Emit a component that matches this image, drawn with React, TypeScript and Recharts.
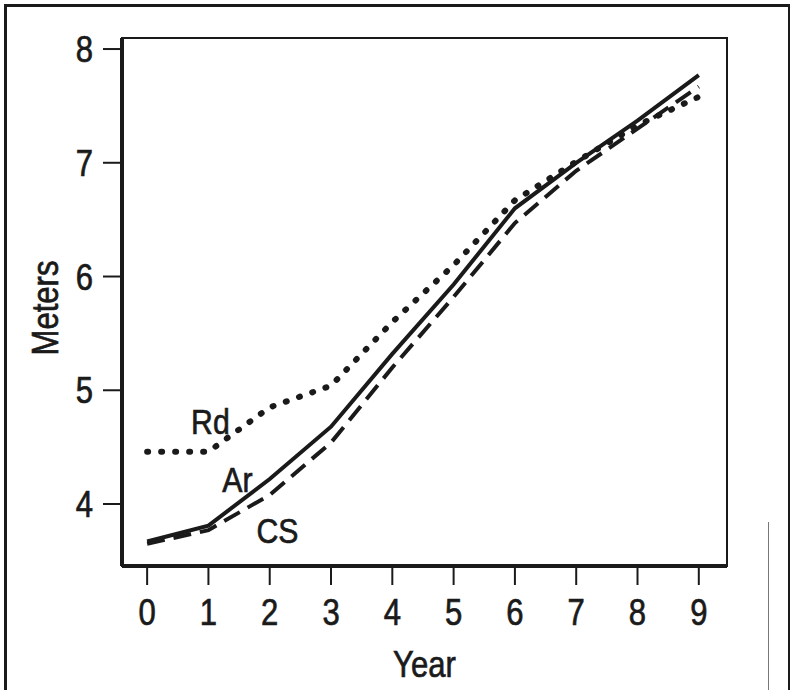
import { LineChart, Line, XAxis, YAxis, LabelList, ReferenceArea } from "recharts";

const years = [0, 1, 2, 3, 4, 5, 6, 7, 8, 9];
const ar = [3.67, 3.81, 4.22, 4.68, 5.32, 5.93, 6.6, 7.0, 7.37, 7.77];
const cs = [3.65, 3.77, 4.08, 4.54, 5.2, 5.82, 6.47, 6.93, 7.3, 7.67];
const rd = [4.46, 4.46, 4.85, 5.04, 5.6, 6.1, 6.67, 7.01, 7.33, 7.58];
const yTicks = [4, 5, 6, 7, 8];

const data = years.map((y, i) => ({ year: y, ar: ar[i], cs: cs[i], rd: rd[i] }));

const X_DOMAIN = [-0.41, 9.46];
const Y_DOMAIN = [3.455, 8.097];

const FONT = "'Liberation Sans', Arial, sans-serif";
const INK = "#1a1a1a";
const SQUEEZE = 0.84; // the scanned figure uses a narrow face

function NarrowText({ x, y, anchor, dy, size, rotate, children }: any) {
  const rot = rotate ? ` rotate(${rotate})` : "";
  return (
    <text
      x={0}
      y={0}
      dy={dy}
      transform={`translate(${x},${y})${rot} scale(${SQUEEZE},1)`}
      textAnchor={anchor}
      fontFamily={FONT}
      fontSize={size}
      fill={INK}
      stroke={INK}
      strokeWidth={0.7}
    >
      {children}
    </text>
  );
}

const XTick = (p: any) => (
  <NarrowText x={p.x} y={p.y} anchor="middle" dy="0.71em" size={37}>
    {p.payload.value}
  </NarrowText>
);

const YTick = (p: any) => (
  <NarrowText x={p.x} y={p.y} anchor="end" dy="0.355em" size={37}>
    {p.payload.value}
  </NarrowText>
);

// name printed next to a curve, hung off its second point
function curveName(text: string, dx: number, dy: number) {
  return (props: any) => {
    if (props.index !== 1) return null;
    return (
      <NarrowText x={props.x + dx} y={props.y + dy} anchor="middle" dy="0.355em" size={36}>
        {text}
      </NarrowText>
    );
  };
}

export default function App() {
  return (
    <div style={{ position: "absolute", left: 0, top: 0, width: 790, height: 690, background: "#fff", overflow: "hidden" }}>
      <div
        style={{
          position: "absolute",
          left: 4,
          top: 4,
          width: 781,
          height: 700,
          border: `3px solid ${INK}`,
          borderBottom: "none",
        }}
      />
      <div style={{ position: "absolute", left: 768, top: 522, width: 1, height: 168, background: "#777" }} />
      <div style={{ position: "absolute", left: 0, top: 0 }}>
        <LineChart
          width={790}
          height={690}
          data={data}
          margin={{ top: 38, right: 63, bottom: 64, left: 42 }}
        >
          <XAxis
            dataKey="year"
            type="number"
            domain={X_DOMAIN}
            ticks={years}
            allowDataOverflow
            height={60}
            tick={<XTick />}
            tickSize={19}
            tickMargin={14}
            tickLine={{ stroke: INK, strokeWidth: 2 }}
            axisLine={{ stroke: INK, strokeWidth: 4 }}
            label={(p: any) => (
              <NarrowText x={p.viewBox.x + p.viewBox.width / 2} y={664} anchor="middle" dy="0.355em" size={37}>
                Year
              </NarrowText>
            )}
          />
          <YAxis
            type="number"
            domain={Y_DOMAIN}
            ticks={yTicks}
            allowDataOverflow
            width={80}
            tick={<YTick />}
            tickSize={19}
            tickMargin={10}
            tickLine={{ stroke: INK, strokeWidth: 2 }}
            axisLine={{ stroke: INK, strokeWidth: 4 }}
            label={(p: any) => (
              <NarrowText
                x={45}
                y={p.viewBox.y + p.viewBox.height / 2 + 6}
                anchor="middle"
                dy="0.355em"
                size={37}
                rotate={-90}
              >
                Meters
              </NarrowText>
            )}
          />
          <ReferenceArea
            x1={X_DOMAIN[0]}
            x2={X_DOMAIN[1]}
            y1={Y_DOMAIN[0]}
            y2={Y_DOMAIN[1]}
            fill="none"
            stroke={INK}
            strokeWidth={2}
            ifOverflow="visible"
          />
          <Line
            dataKey="rd"
            type="linear"
            stroke={INK}
            strokeWidth={6}
            strokeDasharray="1 13"
            strokeLinecap="round"
            dot={false}
            isAnimationActive={false}
          >
            <LabelList dataKey="rd" content={curveName("Rd", 2, -30)} />
          </Line>
          <Line
            dataKey="cs"
            type="linear"
            stroke={INK}
            strokeWidth={4}
            strokeDasharray="18 9"
            dot={false}
            isAnimationActive={false}
          >
            <LabelList dataKey="cs" content={curveName("CS", 69, 0)} />
          </Line>
          <Line
            dataKey="ar"
            type="linear"
            stroke={INK}
            strokeWidth={4}
            dot={false}
            isAnimationActive={false}
          >
            <LabelList dataKey="ar" content={curveName("Ar", 29, -46)} />
          </Line>
        </LineChart>
      </div>
    </div>
  );
}
